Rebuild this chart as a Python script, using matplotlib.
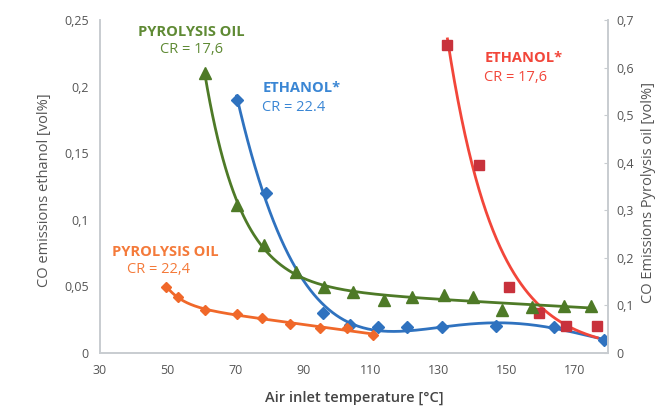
import numpy as np
import matplotlib.pyplot as plt
from matplotlib.ticker import FuncFormatter

plt.rcParams['font.family'] = ['Open Sans', 'DejaVu Sans']

# ethanol, CR = 22.4 (left axis)
eth224_T = [70.4, 79.2, 95.8, 103.7, 112.0, 120.8, 131.0, 147.0, 164.0, 178.8]
eth224_co = [0.190, 0.120, 0.030, 0.021, 0.0195, 0.0195, 0.0195, 0.020, 0.0195, 0.010]

# ethanol, CR = 17.6 (left axis)
eth176_T = [132.6, 142.0, 150.8, 159.7, 167.6, 176.8]
eth176_co = [0.231, 0.141, 0.0495, 0.030, 0.020, 0.020]

# pyrolysis oil, CR = 17.6 (right axis)
pyr176_T = [61.0, 70.4, 78.6, 88.0, 96.3, 104.6, 114.0, 122.0, 131.7, 140.0, 148.8, 157.6, 167.0, 175.0]
pyr176_co = [0.589, 0.311, 0.227, 0.170, 0.139, 0.128, 0.111, 0.118, 0.122, 0.118, 0.090, 0.097, 0.099, 0.099]

# pyrolysis oil, CR = 22.4 (right axis)
pyr224_T = [49.7, 53.0, 61.0, 70.4, 78.0, 86.0, 95.0, 103.0, 110.5]
pyr224_co = [0.139, 0.118, 0.090, 0.082, 0.073, 0.061, 0.052, 0.052, 0.038]

x_ticks = [30, 50, 70, 90, 110, 130, 150, 170]


def trend(x, y, deg):
    # least squares: exp decay + polynomial, decay rate picked by grid search
    x = np.asarray(x, float)
    y = np.asarray(y, float)
    x0 = x[0]
    best = None
    for k in np.linspace(0.01, 0.4, 400):
        A = [np.exp(-k * (x - x0))] + [((x - x0) / 100.0) ** p for p in range(deg + 1)]
        A = np.vstack(A).T
        c, *_ = np.linalg.lstsq(A, y, rcond=None)
        r = np.sum((A @ c - y) ** 2)
        if best is None or r < best[0]:
            best = (r, k, c)
    _, k, c = best
    xs = np.linspace(x[0], x[-1], 300)
    A = [np.exp(-k * (xs - x0))] + [((xs - x0) / 100.0) ** p for p in range(deg + 1)]
    return xs, np.vstack(A).T @ c


fig = plt.figure(figsize=(6.56, 4.07), dpi=100)
ax = fig.add_axes([0.152, 0.133, 0.775, 0.818])
ax2 = ax.twinx()

green = '#4e7a27'
blue = '#2f72bf'
red_line = '#f2463a'
red_mk = '#c8323c'
orange = '#f0682a'

xs, ys = trend(pyr176_T, pyr176_co, 1)
ax2.plot(xs, ys, color=green, lw=2)
ax2.plot(pyr176_T, pyr176_co, '^', color=green, ms=8)

xs, ys = trend(pyr224_T, pyr224_co, 1)
ax2.plot(xs, ys, color=orange, lw=2)
ax2.plot(pyr224_T, pyr224_co, 'D', color=orange, ms=5)

xs, ys = trend(eth224_T, eth224_co, 3)
ax.plot(xs, ys, color=blue, lw=2)
ax.plot(eth224_T, eth224_co, 'D', color=blue, ms=6)

xs, ys = trend(eth176_T, eth176_co, 0)
ax.plot(xs, ys, color=red_line, lw=2)
ax.plot(eth176_T, eth176_co, 's', color=red_mk, ms=7)

ax.set_xlim(30, 180)
ax.set_ylim(0, 0.25)
ax2.set_ylim(0, 0.7)
ax.set_xticks(x_ticks)
ax.set_yticks([0, 0.05, 0.1, 0.15, 0.2, 0.25])
ax2.set_yticks([0, 0.1, 0.2, 0.3, 0.4, 0.5, 0.6, 0.7])

comma = FuncFormatter(lambda v, p: ('%g' % round(v, 3)).replace('.', ','))
ax.yaxis.set_major_formatter(comma)
ax2.yaxis.set_major_formatter(comma)

for a in (ax, ax2):
    a.spines['top'].set_visible(False)
    for s in a.spines.values():
        s.set_color('#c8ccd0')
        s.set_linewidth(1.2)
    a.tick_params(labelsize=9, colors='#555555', length=0, pad=8)
ax2.tick_params(axis='y', direction='in', length=3, color='#c8ccd0', pad=6)

fig.text(0.54, 0.022, 'Air inlet temperature [°C]', fontsize=10.5, color='#444444',
         fontweight='semibold', ha='center', va='center')
fig.text(0.068, 0.533, 'CO emissions ethanol [vol%]', fontsize=10.5, color='#555555',
         rotation=90, ha='center', va='center')
fig.text(0.988, 0.528, 'CO Emissions Pyrolysis oil [vol%]', fontsize=10.5, color='#555555',
         rotation=90, ha='center', va='center')

# series labels
fs = 10.5
ax.text(57, 0.241, 'PYROLYSIS OIL', color='#5f8a34', fontsize=fs, fontweight='bold', ha='center', va='center')
ax.text(57, 0.2275, 'CR = 17,6', color='#5f8a34', fontsize=fs, ha='center', va='center')
ax.text(78, 0.199, 'ETHANOL*', color='#3a86d4', fontsize=fs, fontweight='bold', ha='left', va='center')
ax.text(78, 0.184, 'CR = 22.4', color='#3a86d4', fontsize=fs, ha='left', va='center')
ax.text(143.5, 0.2215, 'ETHANOL*', color=red_line, fontsize=fs, fontweight='bold', ha='left', va='center')
ax.text(143.5, 0.2065, 'CR = 17,6', color=red_line, fontsize=fs, ha='left', va='center')
ax.text(33.5, 0.0758, 'PYROLYSIS OIL', color='#f47a3a', fontsize=fs, fontweight='bold', ha='left', va='center')
ax.text(47.4, 0.0623, 'CR = 22,4', color='#f47a3a', fontsize=fs, ha='center', va='center')

fig.savefig('out.png', dpi=100)
